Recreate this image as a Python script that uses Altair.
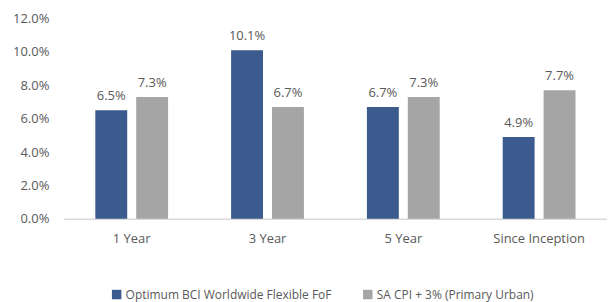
import altair as alt
import pandas as pd

periods = ["1 Year", "3 Year", "5 Year", "Since Inception"]
series_names = ["Optimum BCI Worldwide Flexible FoF", "SA CPI + 3% (Primary Urban)"]
fund_values = [6.5, 10.1, 6.7, 4.9]
cpi_values = [7.3, 6.7, 7.3, 7.7]
y_ticks = [0, 2, 4, 6, 8, 10, 12]

rows = []
for p, f, c in zip(periods, fund_values, cpi_values):
    rows.append({"period": p, "series": series_names[0], "value": f / 100})
    rows.append({"period": p, "series": series_names[1], "value": c / 100})
df = pd.DataFrame(rows)

FONT = "Open Sans"
TXT = "#595959"

x = alt.X("period:N", sort=periods, title=None,
          scale=alt.Scale(paddingInner=0.464, paddingOuter=0.232),
          axis=alt.Axis(labelAngle=0, ticks=False, domainColor="#D9D9D9",
                        domainWidth=1.5, labelPadding=14, labelFont=FONT,
                        labelFontSize=13, labelColor=TXT))
xo = alt.XOffset("series:N", sort=series_names,
                 scale=alt.Scale(paddingInner=0.22, paddingOuter=0))
y = alt.Y("value:Q", title=None,
          scale=alt.Scale(domain=[0, 0.12], nice=False),
          axis=alt.Axis(values=[v / 100 for v in y_ticks], format=".1%",
                        domain=False, ticks=False, grid=False, labelPadding=15,
                        labelFont=FONT, labelFontSize=13, labelColor=TXT))
color = alt.Color("series:N", sort=series_names, title=None,
                  scale=alt.Scale(domain=series_names, range=["#3B5A8D", "#A5A5A5"]),
                  legend=alt.Legend(orient="none", legendX=47, legendY=271,
                                    direction="horizontal", symbolType="square",
                                    symbolSize=90, symbolStrokeWidth=0,
                                    labelFont=FONT, labelFontSize=12,
                                    labelColor=TXT, columnPadding=30,
                                    labelLimit=0,
                                    symbolOffset=0, labelOffset=3))

base = alt.Chart(df).encode(x=x, xOffset=xo, y=y)
bars = base.mark_bar().encode(color=color)
labels = base.mark_text(baseline="bottom", dy=-7, font=FONT, fontSize=13,
                        color=TXT).encode(text=alt.Text("value:Q", format=".1%"))

chart = (bars + labels).properties(
    width=545, height=201,
    autosize=alt.AutoSizeParams(type="none"),
    padding={"left": 56, "top": 10, "right": 0, "bottom": 90},
).configure_view(stroke=None)

chart.save("out.html", embed_options={"renderer": "svg", "actions": False})
